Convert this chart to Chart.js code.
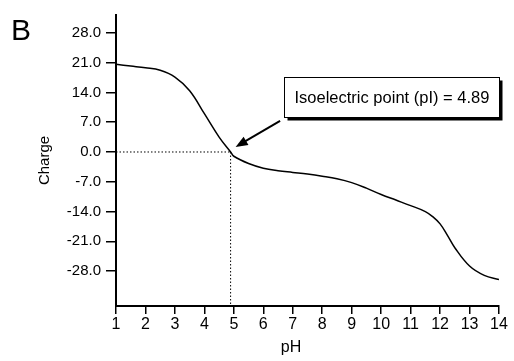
<!DOCTYPE html>
<html>
<head>
<meta charset="utf-8">
<script src="https://cdn.jsdelivr.net/npm/chart.js@4"></script>
<style>
  body { margin: 0; background: #fff; }
  #wrap { width: 514px; height: 361px; position: relative; }
</style>
</head>
<body>
<div id="wrap"><canvas id="myChart"></canvas></div>
<script>
const ctx = document.getElementById('myChart');

// Net charge of the protein against pH
const phValues = [1.0, 1.5, 2.0, 2.5, 3.0, 3.5, 4.0, 4.5, 4.89, 5.0, 5.5, 6.0, 6.5, 7.0, 7.5,
  8.0, 8.5, 9.0, 9.5, 10.0, 10.5, 11.0, 11.5, 11.75, 12.0, 12.25, 12.5, 13.0, 13.5, 14.0];
const chargeValues = [20.6, 20.2, 19.8, 19.2, 17.6, 14.4, 9.0, 3.5, 0.0, -1.0, -2.7, -3.8, -4.4, -4.8, -5.2,
  -5.7, -6.3, -7.2, -8.5, -10.0, -11.3, -12.6, -14.0, -15.2, -16.9, -19.6, -22.5, -26.8, -29.0, -30.0];

const pI = 4.89;
const chargeTicks = [-28, -21, -14, -7, 0, 7, 14, 21, 28];
const phTicks = [1, 2, 3, 4, 5, 6, 7, 8, 9, 10, 11, 12, 13, 14];
const yMin = -36.2;
const yMax = 32.2;

const font = 'Liberation Sans, Arial, sans-serif';

// Callout box, arrow and panel letter
const calloutPlugin = {
  id: 'callout',
  afterDatasetsDraw(chart) {
    const c = chart.ctx;
    const x = chart.scales.x;
    const y = chart.scales.y;
    c.save();

    // panel letter
    c.fillStyle = '#000';
    c.font = '30px ' + font;
    c.textBaseline = 'alphabetic';
    c.textAlign = 'left';
    c.fillText('B', 11, 40);

    // x axis title
    c.font = '16px ' + font;
    c.textAlign = 'center';
    c.fillText('pH', x.getPixelForValue(6.94), 352);

    // label box
    const label = 'Isoelectric point (pI) = ' + pI.toFixed(2);
    c.font = '16.5px ' + font;
    const bx = Math.round(x.getPixelForValue(6.7)) + 0.5;
    const by = Math.round(y.getPixelForValue(17.6)) + 0.5;
    const bw = Math.round(c.measureText(label).width + 20);
    const bh = 40;
    c.fillStyle = '#000';
    c.fillRect(bx + 3, by + 3, bw, bh);
    c.fillStyle = '#fff';
    c.fillRect(bx, by, bw, bh);
    c.strokeStyle = '#000';
    c.lineWidth = 1;
    c.strokeRect(bx, by, bw, bh);
    c.fillStyle = '#000';
    c.textAlign = 'left';
    c.textBaseline = 'middle';
    c.fillText(label, bx + 10, by + bh / 2 + 1);

    // arrow pointing at the isoelectric point
    const tx = x.getPixelForValue(pI) + 5;
    const ty = y.getPixelForValue(0) - 5;
    const sx = x.getPixelForValue(6.57);
    const sy = y.getPixelForValue(7.3);
    const ang = Math.atan2(ty - sy, tx - sx);
    const head = 13;
    c.lineWidth = 2;
    c.beginPath();
    c.moveTo(sx, sy);
    c.lineTo(tx - Math.cos(ang) * head * 0.8, ty - Math.sin(ang) * head * 0.8);
    c.stroke();
    c.beginPath();
    c.moveTo(tx, ty);
    c.lineTo(tx - head * Math.cos(ang - 0.38), ty - head * Math.sin(ang - 0.38));
    c.lineTo(tx - head * Math.cos(ang + 0.38), ty - head * Math.sin(ang + 0.38));
    c.closePath();
    c.fill();
    c.restore();
  }
};

new Chart(ctx, {
  type: 'line',
  data: {
    datasets: [{
      label: 'Charge',
      data: phValues.map((ph, i) => ({ x: ph, y: chargeValues[i] })),
      borderColor: '#000',
      borderWidth: 1.5,
      pointRadius: 0,
      fill: false,
      tension: 0.4
    }, {
      label: 'zero line',
      data: [{ x: 1, y: 0 }, { x: pI, y: 0 }],
      borderColor: '#000',
      borderWidth: 1,
      borderDash: [1.5, 2],
      pointRadius: 0
    }, {
      label: 'pI line',
      data: [{ x: pI, y: 0 }, { x: pI, y: yMin }],
      borderColor: '#000',
      borderWidth: 1,
      borderDash: [1.5, 2],
      pointRadius: 0
    }]
  },
  options: {
    responsive: true,
    maintainAspectRatio: false,
    animation: false,
    layout: { padding: { left: 0, top: 15, right: 15, bottom: 0 } },
    plugins: {
      legend: { display: false },
      tooltip: { enabled: false }
    },
    scales: {
      x: {
        type: 'linear',
        min: 1,
        max: 14,
        afterBuildTicks: (scale) => { scale.ticks = phTicks.map(v => ({ value: v })); },
        afterFit: (scale) => { scale.height = 55; },
        grid: { drawOnChartArea: false, drawTicks: true, tickLength: 8, color: '#000', lineWidth: 1.5 },
        border: { display: true, color: '#000', width: 2 },
        ticks: {
          color: '#000',
          padding: 1,
          maxRotation: 0,
          font: { family: font, size: 16 },
          callback: (value) => value
        }
      },
      y: {
        min: yMin,
        max: yMax,
        afterBuildTicks: (scale) => { scale.ticks = chargeTicks.map(v => ({ value: v })); },
        afterFit: (scale) => { scale.width = 116; },
        grid: { drawOnChartArea: false, drawTicks: true, tickLength: 10, color: '#000', lineWidth: 1.5 },
        border: { display: true, color: '#000', width: 2 },
        title: {
          display: true,
          text: 'Charge',
          color: '#000',
          padding: { top: 36, bottom: 0 },
          font: { family: font, size: 15 }
        },
        ticks: {
          color: '#000',
          padding: 5,
          font: { family: font, size: 15 },
          callback: (value) => value.toFixed(1)
        }
      }
    }
  },
  plugins: [calloutPlugin]
});
</script>
</body>
</html>
